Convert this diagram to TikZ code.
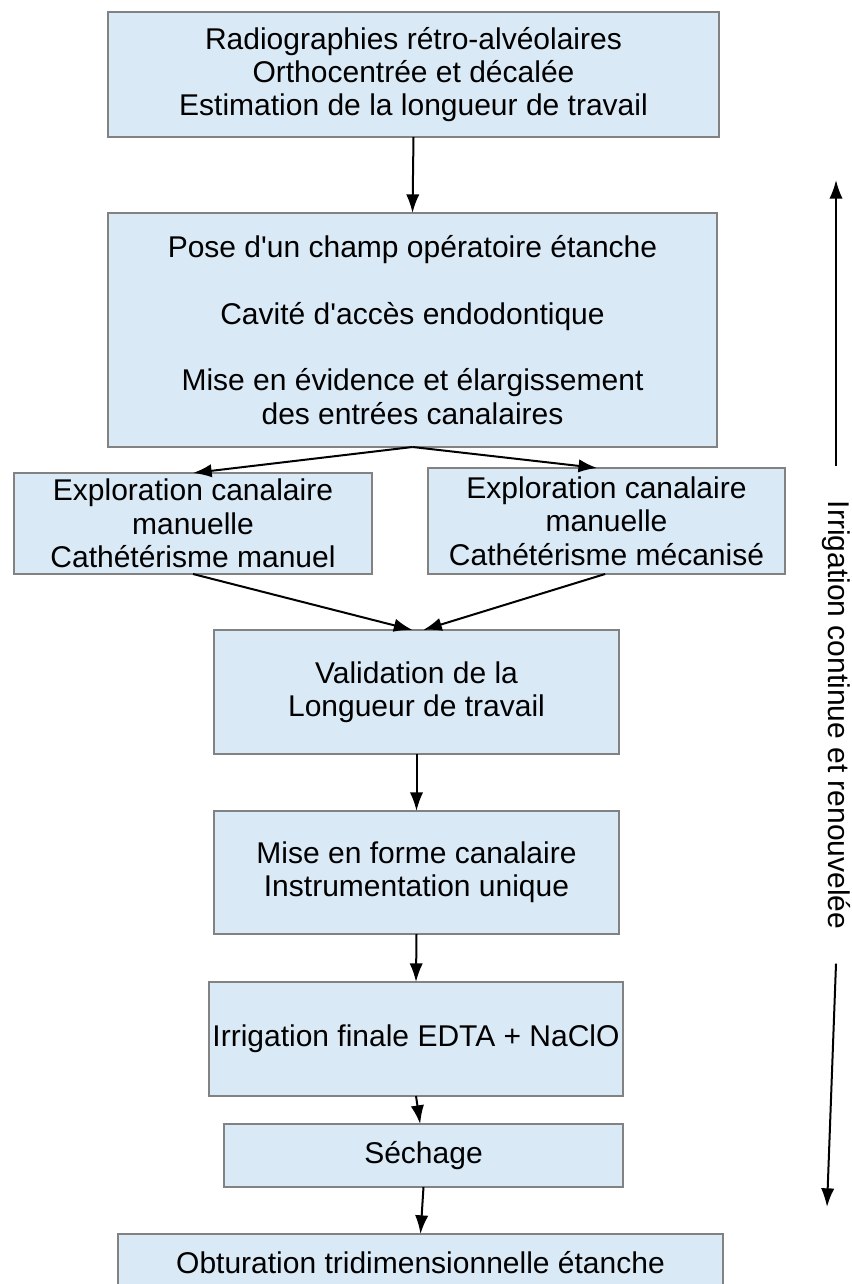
\documentclass[tikz,border=0pt]{standalone}
\usepackage{fontspec}
\setmainfont{Liberation Sans}
\usepackage{tikz}
\usetikzlibrary{arrows.meta}
\usetikzlibrary{positioning}
\definecolor{boxfill}{RGB}{218,233,246}
\definecolor{boxline}{RGB}{130,130,130}
\tikzset{
	etape/.style = {
		draw=boxline,
		fill=boxfill,
		line width=1.3pt,
		rectangle,
		inner sep=0mm,
		outer sep=0mm,
		align=center,
		font=\fontsize{22.5}{25}\selectfont
	}
}

\begin{document}
\begin{tikzpicture}[
		x=0.75pt, y=-0.75pt,
		>={Latex[length=14pt,width=10pt]},
		line width=1.5pt,
	]

	% The canvas, in pixels of the page
	\clip (0,0) rectangle (851,1284);

	% Draw the steps
	\node (radio) [etape, minimum width=458.25pt, minimum height=93.75pt] at (413.5,74.5)
		{Radiographies rétro-alvéolaires\\Orthocentrée et décalée\\Estimation de la longueur de travail};
	\node (acces) [etape, minimum width=456.75pt, minimum height=175.5pt] at (412.5,330)
		{Pose d\textquotesingle un champ opératoire étanche\\[25pt]Cavité d\textquotesingle accès endodontique\\[25pt]Mise en évidence et élargissement\\des entrées canalaires};
	\node (explman) [etape, minimum width=268.5pt, minimum height=75.75pt] at (193,523.5)
		{Exploration canalaire\\manuelle\\Cathétérisme manuel};
	\node (explmec) [etape, minimum width=267.75pt, minimum height=79.5pt] at (606.5,521)
		{Exploration canalaire\\manuelle\\Cathétérisme mécanisé};
	\node (valid) [etape, minimum width=303.75pt, minimum height=93pt] at (416.5,692)
		{Validation de la\\Longueur de travail};
	\node (forme) [etape, minimum width=303.75pt, minimum height=92.25pt] at (416.5,872.5)
		{Mise en forme canalaire\\Instrumentation unique};
	\node (irrfin) [etape, minimum width=310.5pt, minimum height=85.5pt] at (416,1039)
		{Irrigation finale EDTA + NaClO};
	\node (sechage) [etape, minimum width=299.25pt, minimum height=47.25pt] at (423.5,1155.5)
		{Séchage};
	\node (obtur) [etape, minimum width=453.75pt, minimum height=43.5pt] at (420.5,1263)
		{Obturation tridimensionnelle étanche};

	% Draw the arrows between steps
	\draw[->] (radio.south) -- (acces.north);
	\draw[->] (acces.south) -- (explman.north);
	\draw[->] (acces.south) -- ([xshift=-7pt]explmec.north);
	\draw[->] (explman.south) -- ([xshift=-3pt]valid.north);
	\draw[->] ([xshift=-1pt]explmec.south) -- ([xshift=5pt]valid.north);
	\draw[->] (valid.south) -- (forme.north);
	\draw[->] (forme.south) -- (irrfin.north);
	\draw[->] (irrfin.south) -- ([xshift=-2.5pt]sechage.north);
	\draw[->] (sechage.south) -- (obtur.north);

	% Continuous irrigation on the right side
	\coordinate (irrtop) at (836,180);
	\coordinate (irrbot) at (827,1207);
	\node (irrig) [rotate=-90, inner xsep=25pt, inner ysep=0pt,
		font=\fontsize{22.5}{25}\selectfont] at (836,715)
		{Irrigation continue et renouvelée};
	\draw[->] (irrig.west) -- (irrtop);
	\draw[->] (irrig.east) -- (irrbot);

\end{tikzpicture}
\end{document}
